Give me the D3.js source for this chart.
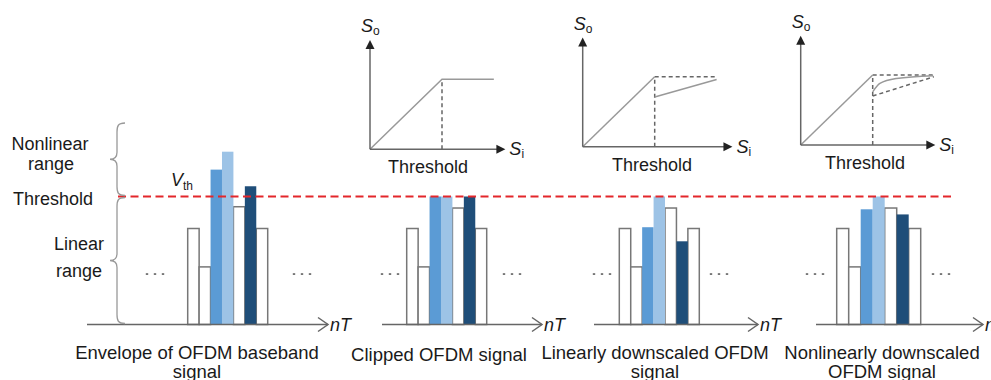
<!DOCTYPE html>
<html>
<head>
<meta charset="utf-8">
<script src="https://cdn.jsdelivr.net/npm/d3@7"></script>
<style>
  body { margin: 0; background: #fff; }
  text { font-family: "Liberation Sans", Arial, sans-serif; fill: #1a1a1a; }
</style>
</head>
<body>
<svg id="chart" width="991" height="380"></svg>
<script>
// ---- data (threshold = 1) ----
const barKinds = ["empty", "empty", "mid", "light", "empty", "dark", "empty"];
const envelopeValues = [0.75, 0.45, 1.21, 1.35, 0.92, 1.08, 0.75];
const clippedValues = [0.75, 0.45, 1, 1, 0.91, 1, 0.75];
const linearValues = [0.75, 0.45, 0.76, 1, 0.91, 0.65, 0.75];
const nonlinearValues = [0.75, 0.45, 0.90, 1, 0.91, 0.86, 0.75];
const panelLabels = [
    ["Envelope of OFDM baseband", "signal"],
    ["Clipped OFDM signal"],
    ["Linearly downscaled OFDM", "signal"],
    ["Nonlinearly downscaled", "OFDM signal"]
];

// transfer curves, input/output in threshold units
const linearPart = [[0, 0], [1, 1]];
const clipCurve = [[0, 0], [1, 1], [1.72, 1]];
const linearCurve = [[1, 0.71], [1.86, 0.96]];
const nonlinearCurve = [[1, 0.76], [1.1, 0.88], [1.33, 0.95], [1.84, 0.99]];
const upperBound = [[1, 1], [1.86, 1]];
const lowerBound = [[1, 0.70], [1.85, 0.975]];
const thresholdMark = [[1, 0], [1, 1]];

const svg = d3.select("#chart");
svg.append("rect").attr("width", 991).attr("height", 380).attr("fill", "#fff");

const colors = { empty: "#fff", mid: "#5b9bd5", light: "#9dc3e6", dark: "#1f4e79" };

// shared vertical scale of the bar panels
const y = d3.scaleLinear().domain([0, 1]).range([324.5, 196.5]);

// ---- bar panels ----
const panels = [
    { values: envelopeValues, bars: [187.7, 267.7], axis: [87, 328], dots: [155, 302], label: 197, firstY: 359 },
    { values: clippedValues, bars: [406.7, 486.7], axis: [382, 542], dots: [390, 512], label: 439, firstY: 361 },
    { values: linearValues, bars: [619.3, 699.3], axis: [594, 758], dots: [602, 719], label: 655, firstY: 359 },
    { values: nonlinearValues, bars: [836.7, 920.7], axis: [816, 983], dots: [815, 941], label: 882, firstY: 359 }
];

panels.forEach((p, pi) => {
    const g = svg.append("g");
    const x = d3.scaleBand().domain(d3.range(p.values.length)).range(p.bars).padding(0);

    // white outlined bars first, coloured on top
    const order = d3.range(p.values.length).sort((a, b) =>
        (barKinds[a] === "empty" ? 0 : 1) - (barKinds[b] === "empty" ? 0 : 1));
    g.selectAll("rect")
        .data(order)
        .enter()
        .append("rect")
        .attr("x", i => x(i))
        .attr("y", i => y(p.values[i]))
        .attr("width", x.bandwidth())
        .attr("height", i => y(0) - y(p.values[i]))
        .attr("fill", i => colors[barKinds[i]])
        .attr("stroke", i => barKinds[i] === "empty" ? "#777" : "none")
        .attr("stroke-width", 1.5);

    // nT axis with open arrow
    const [a0, a1] = p.axis;
    g.append("line")
        .attr("x1", a0).attr("x2", a1)
        .attr("y1", y(0)).attr("y2", y(0))
        .attr("stroke", "#666").attr("stroke-width", 1.5);
    g.append("path")
        .attr("d", `M${a1 - 10},${y(0) - 7}L${a1},${y(0)}L${a1 - 10},${y(0) + 7}`)
        .attr("fill", "none").attr("stroke", "#666").attr("stroke-width", 1.5);
    g.append("text")
        .attr("x", a1 + 2).attr("y", y(0) + 6)
        .style("font-size", "18px").style("font-style", "italic")
        .text("nT");

    // ellipsis dots
    p.dots.forEach(cx => {
        [-8, 0, 8].forEach(dx => {
            g.append("rect").attr("x", cx + dx - 1.2).attr("y", 273.3)
                .attr("width", 2.4).attr("height", 1.5).attr("fill", "#555");
        });
    });

    // label under the panel
    const lbl = g.append("text")
        .attr("text-anchor", "middle")
        .style("font-size", "18.5px");
    panelLabels[pi].forEach((t, k) => {
        lbl.append("tspan").attr("x", p.label).attr("y", p.firstY + k * 18.5).text(t);
    });
});

// ---- threshold line ----
svg.append("line")
    .attr("x1", 118).attr("x2", 952)
    .attr("y1", y(1)).attr("y2", y(1))
    .attr("stroke", "#e3262b").attr("stroke-width", 2)
    .attr("stroke-dasharray", "8,4.5");

const vth = svg.append("text").attr("x", 171).attr("y", 186).style("font-size", "18px");
vth.append("tspan").style("font-style", "italic").text("V");
vth.append("tspan").attr("dy", 4).style("font-size", "12px").text("th");

// ---- left annotations ----
function brace(xs, y0, y1) {
    const m = (y0 + y1) / 2;
    return `M${xs + 8},${y0} C${xs + 1},${y0} ${xs},${y0 + 3} ${xs},${y0 + 9}
            L${xs},${m - 7} C${xs},${m - 2} ${xs - 3},${m} ${xs - 7},${m}
            C${xs - 3},${m} ${xs},${m + 2} ${xs},${m + 7}
            L${xs},${y1 - 9} C${xs},${y1 - 3} ${xs + 1},${y1} ${xs + 8},${y1}`;
}
svg.append("path").attr("d", brace(117, 123, y(1) - 1))
    .attr("fill", "none").attr("stroke", "#999").attr("stroke-width", 1.3);
svg.append("path").attr("d", brace(117, y(1) + 1, y(0) - 1))
    .attr("fill", "none").attr("stroke", "#999").attr("stroke-width", 1.3);

const leftLabels = svg.append("g").style("font-size", "18px").attr("text-anchor", "middle");
leftLabels.append("text").attr("x", 50).attr("y", 149.5).text("Nonlinear");
leftLabels.append("text").attr("x", 51).attr("y", 169.5).text("range");
leftLabels.append("text").attr("x", 53).attr("y", 204.5).text("Threshold");
leftLabels.append("text").attr("x", 79).attr("y", 249.5).text("Linear");
leftLabels.append("text").attr("x", 79).attr("y", 277).text("range");

// ---- transfer characteristic insets ----
const insets = [
    { origin: [370, 149.3], xMax: 1.88, solid: [clipCurve], dashed: [thresholdMark], label: 428 },
    { origin: [582.7, 146.7], xMax: 2.08, solid: [linearPart, linearCurve], dashed: [thresholdMark, upperBound], label: 652 },
    { origin: [800.7, 145], xMax: 1.87, solid: [linearPart, nonlinearCurve], dashed: [thresholdMark, upperBound, lowerBound], label: 865 }
];

insets.forEach(s => {
    const [ox, oy] = s.origin;
    const sx = d3.scaleLinear().domain([0, 1]).range([ox, ox + 72]);
    const sy = d3.scaleLinear().domain([0, 1]).range([oy, oy - 70]);
    const straight = d3.line().x(d => sx(d[0])).y(d => sy(d[1]));
    const smooth = d3.line().x(d => sx(d[0])).y(d => sy(d[1])).curve(d3.curveMonotoneX);
    const g = svg.append("g");

    s.dashed.forEach(c => {
        g.append("path").attr("d", straight(c)).attr("fill", "none")
            .attr("stroke", "#666").attr("stroke-width", 1.5).attr("stroke-dasharray", "4,3");
    });
    s.solid.forEach(c => {
        g.append("path").attr("d", c === nonlinearCurve ? smooth(c) : straight(c)).attr("fill", "none")
            .attr("stroke", "#999").attr("stroke-width", 1.5);
    });

    // axes with filled arrowheads
    const xt = sx(s.xMax), yt = sy(1.56);
    g.append("line").attr("x1", ox).attr("x2", xt - 6).attr("y1", oy).attr("y2", oy)
        .attr("stroke", "#666").attr("stroke-width", 1.5);
    g.append("line").attr("x1", ox).attr("x2", ox).attr("y1", oy).attr("y2", yt + 6)
        .attr("stroke", "#666").attr("stroke-width", 1.5);
    g.append("path").attr("d", `M${xt},${oy}L${xt - 9},${oy - 4.5}L${xt - 9},${oy + 4.5}Z`).attr("fill", "#222");
    g.append("path").attr("d", `M${ox},${yt}L${ox - 4.5},${yt + 9}L${ox + 4.5},${yt + 9}Z`).attr("fill", "#222");

    const so = g.append("text").attr("x", ox - 9).attr("y", yt - 8).style("font-size", "18px");
    so.append("tspan").style("font-style", "italic").text("S");
    so.append("tspan").attr("dy", 3).style("font-size", "12px").text("o");

    const si = g.append("text").attr("x", xt + 4).attr("y", oy + 6).style("font-size", "18px");
    si.append("tspan").style("font-style", "italic").text("S");
    si.append("tspan").attr("dy", 3).style("font-size", "12px").text("i");

    g.append("text").attr("x", s.label).attr("y", oy + 24)
        .attr("text-anchor", "middle").style("font-size", "18px").text("Threshold");
});
</script>
</body>
</html>
